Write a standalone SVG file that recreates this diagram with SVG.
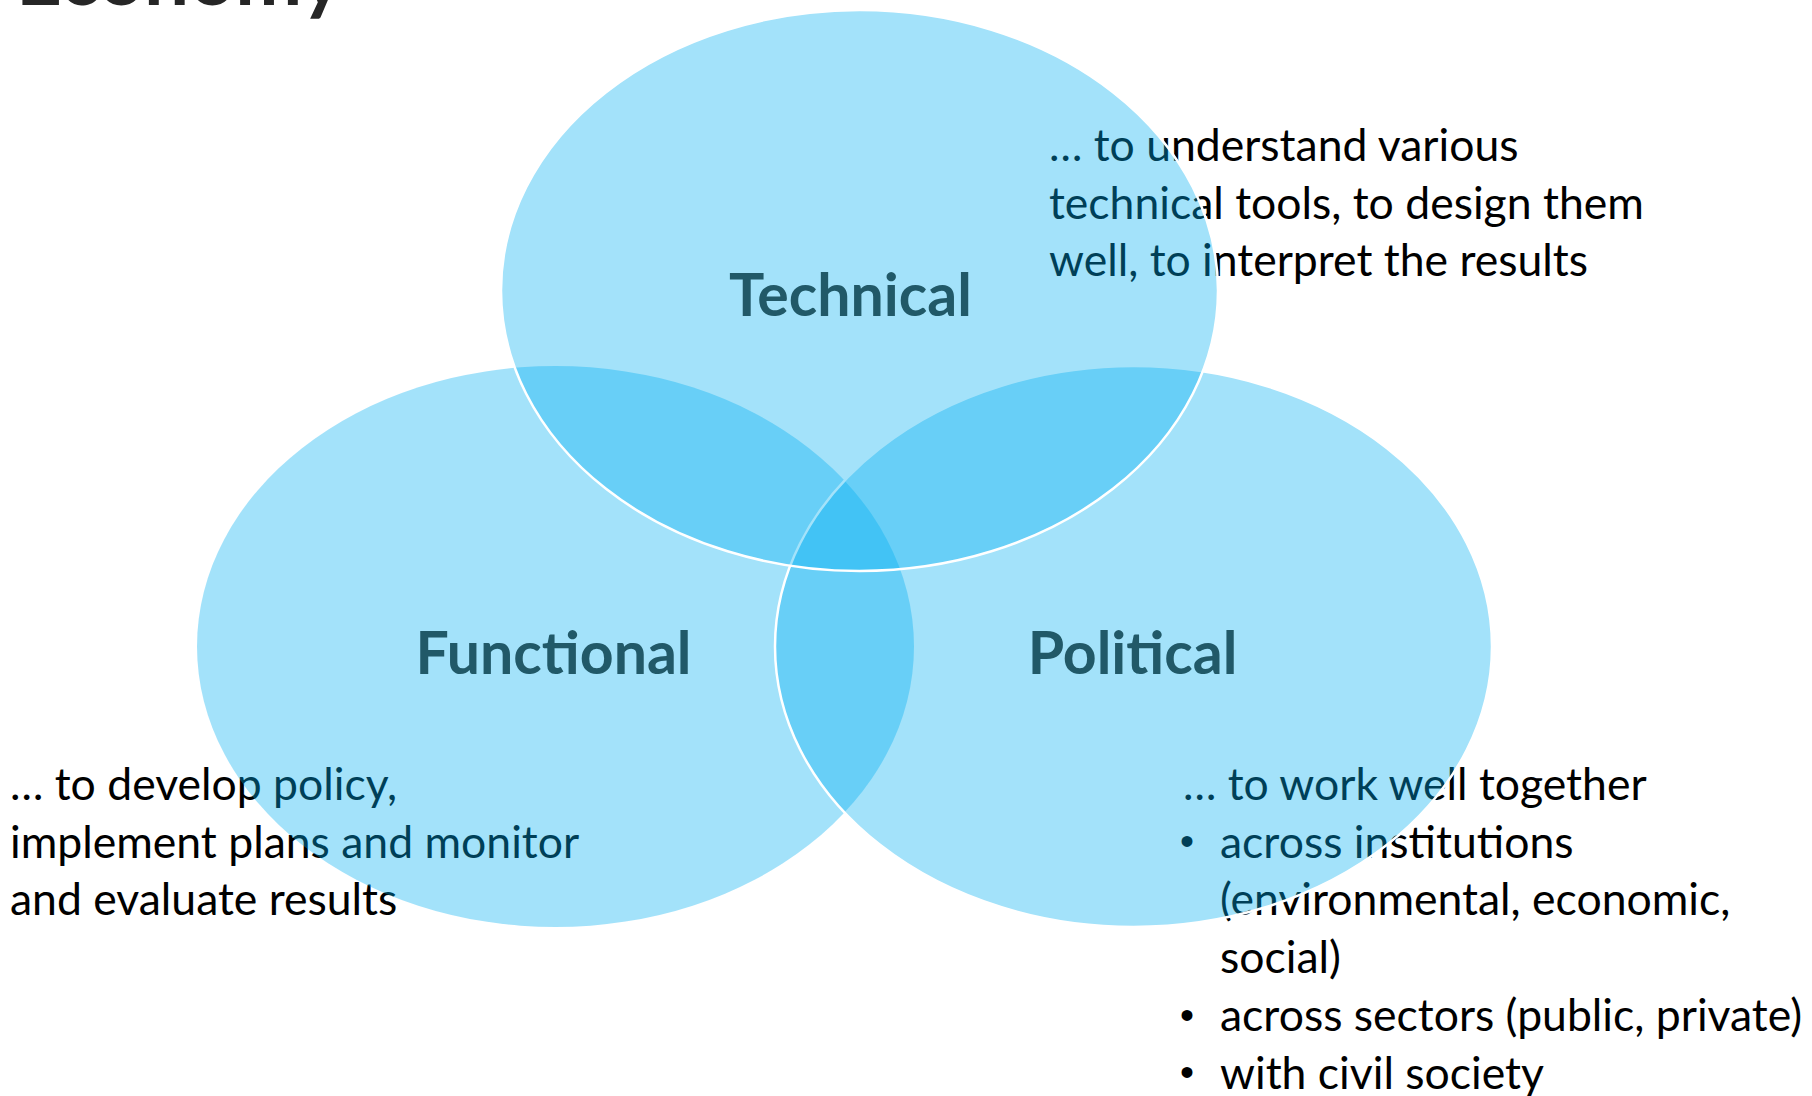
<svg xmlns="http://www.w3.org/2000/svg" width="1812" height="1096" viewBox="0 0 1812 1096">
<style>
  .bg { fill: #ffffff; }
  .title { font-family: Lato, "Liberation Sans", sans-serif; font-weight: bold; font-size: 80px; fill: #262626; }
  .desc { font-family: Lato, "Liberation Sans", sans-serif; font-size: 44.5px; fill: #000000; }
  .bullet { font-family: "Liberation Sans", sans-serif; font-size: 40px; fill: #000000; }
  .label { font-family: Lato, "Liberation Sans", sans-serif; font-weight: bold; font-size: 59px; fill: #215968; text-anchor: middle; }
  .ring { fill: #00B0F0; fill-opacity: 0.36; }
  .ring-edge { fill: #00B0F0; fill-opacity: 0.36; stroke: #ffffff; stroke-width: 2.5; }
</style>
<rect class="bg" x="0" y="0" width="1812" height="1096"/>
<text class="title" x="16" y="5">Economy</text>

<g id="functional">
  <text class="desc" x="10" y="800">… to develop policy,</text>
  <text class="desc" x="10" y="857.5">implement plans and monitor</text>
  <text class="desc" x="10" y="915">and evaluate results</text>
  <ellipse class="ring" cx="555.5" cy="646.5" rx="358.5" ry="280.5"/>
  <text class="label" x="553.5" y="673.5">Functional</text>
</g>

<g id="political">
  <text class="desc" x="1183" y="800">… to work well together</text>
  <text class="bullet" x="1180" y="855">•</text>
  <text class="desc" x="1220" y="857.5">across institutions</text>
  <text class="desc" x="1220" y="915">(environmental, economic,</text>
  <text class="desc" x="1220" y="973">social)</text>
  <text class="bullet" x="1180" y="1028.5">•</text>
  <text class="desc" x="1220" y="1031">across sectors (public, private)</text>
  <text class="bullet" x="1180" y="1086">•</text>
  <text class="desc" x="1220" y="1088.5">with civil society</text>
  <ellipse class="ring-edge" cx="1133.5" cy="646.5" rx="358.5" ry="280.5"/>
  <text class="label" x="1132.5" y="673.5">Political</text>
</g>

<g id="technical">
  <text class="desc" x="1049" y="160.5">… to understand various</text>
  <text class="desc" x="1049" y="218.5">technical tools, to design them</text>
  <text class="desc" x="1049" y="276">well, to interpret the results</text>
  <ellipse class="ring-edge" cx="859.5" cy="290.5" rx="358.5" ry="280.5"/>
  <text class="label" x="850.5" y="315.5">Technical</text>
</g>
</svg>
